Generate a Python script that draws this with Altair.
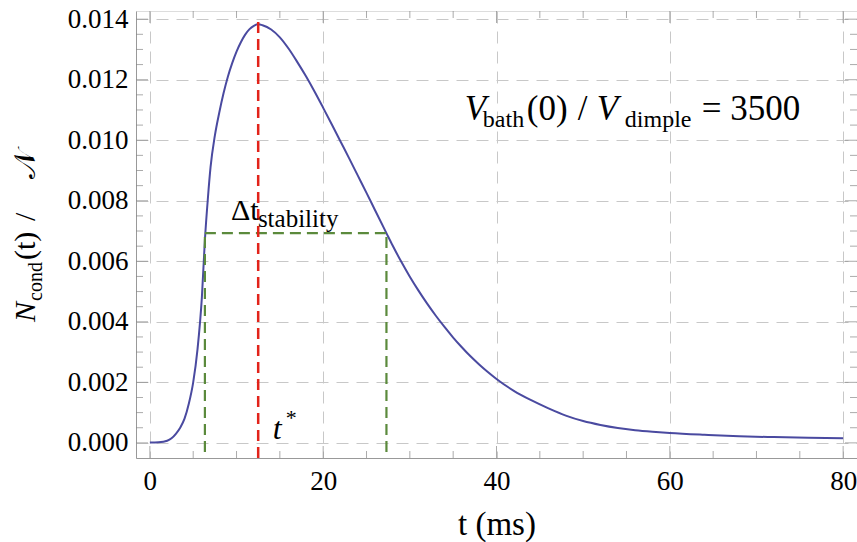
import altair as alt
import pandas as pd

# ---- data ----
t_ms = [0, 1, 2, 2.5, 3, 3.5, 4, 4.5, 5, 5.5, 6, 6.35, 6.7, 7, 7.5, 8, 8.5, 9, 9.5,
        10, 10.5, 11, 11.5, 12, 12.5, 13, 14, 15, 16, 17, 18, 19, 20, 21, 22, 23,
        24, 25, 26, 27.3, 28, 29, 30, 31, 32, 33, 34, 35, 36, 37, 38, 39, 40, 42,
        44, 46, 48, 50, 52, 54, 56, 58, 60, 64, 68, 72, 76, 80]
n_frac = [0.00001, 0.00002, 0.00007, 0.00015, 0.0003, 0.0005, 0.0008, 0.0013,
          0.0020, 0.0031, 0.0048, 0.0067, 0.0081, 0.0091, 0.01015, 0.0109,
          0.01155, 0.0121, 0.01255, 0.01293, 0.01324, 0.01349, 0.01367, 0.01378,
          0.01383, 0.0138, 0.01366, 0.0134, 0.01303, 0.01259, 0.01212, 0.01161,
          0.01107, 0.01052, 0.00996, 0.0094, 0.00883, 0.00826, 0.00768, 0.00693,
          0.00653, 0.00599, 0.00549, 0.00503, 0.0046, 0.0042, 0.00383, 0.00348,
          0.00316, 0.00286, 0.00259, 0.00234, 0.00211, 0.00172, 0.00141, 0.00114,
          0.0009, 0.00072, 0.00059, 0.00049, 0.00042, 0.00037, 0.00033, 0.00027,
          0.00022, 0.00019, 0.00017, 0.00015]

t_star = [12.5]
t_stab = [6.35, 27.3]
half_level = [0.00693]

x_major = [0, 20, 40, 60, 80]
x_minor = [5, 10, 15, 25, 30, 35, 45, 50, 55, 65, 70, 75]
y_major = [0.0, 0.002, 0.004, 0.006, 0.008, 0.010, 0.012, 0.014]
y_minor = [0.0005, 0.001, 0.0015, 0.0025, 0.003, 0.0035, 0.0045, 0.005, 0.0055,
           0.0065, 0.007, 0.0075, 0.0085, 0.009, 0.0095, 0.0105, 0.011, 0.0115,
           0.0125, 0.013, 0.0135]

X_DOMAIN = [-1.6, 81.6]
Y_DOMAIN = [-0.0005, 0.01427]

SERIF = "Liberation Serif, Times New Roman, Times, serif"
W, H = 721, 447

xs = alt.Scale(domain=X_DOMAIN, nice=False, zero=False)
ys = alt.Scale(domain=Y_DOMAIN, nice=False, zero=False)

curve_df = pd.DataFrame({"t": t_ms, "n": n_frac})
one = pd.DataFrame({"a": [0]})

x_axis = alt.Axis(values=x_major, format="d", grid=True, gridDash=[12, 8],
                  gridColor="#c8c8c8", gridWidth=1, ticks=False,
                  labelFont=SERIF, labelFontSize=27, labelColor="black",
                  labelPadding=10, domainColor="#999999", domainWidth=1,
                  title="t (ms)", titleFont=SERIF, titleFontSize=33,
                  titleFontWeight="normal", titleColor="black",
                  titleY=76, titleBaseline="alphabetic")
y_axis = alt.Axis(values=y_major, format=".3f", grid=True, gridDash=[12, 8],
                  gridColor="#c8c8c8", gridWidth=1, ticks=False,
                  labelFont=SERIF, labelFontSize=27, labelColor="black",
                  labelPadding=8, domainColor="#999999", domainWidth=1,
                  title=None)

curve = alt.Chart(curve_df).mark_line(color="#4a4aa0", strokeWidth=2,
                                      interpolate="monotone").encode(
    x=alt.X("t:Q", scale=xs, axis=x_axis),
    y=alt.Y("n:Q", scale=ys, axis=y_axis),
)

red = alt.Chart(pd.DataFrame({"t": t_star})).mark_rule(
    color="#e2231a", strokeWidth=2.5, strokeDash=[11, 6]).encode(
    x=alt.X("t:Q", scale=xs),
    y=alt.datum(Y_DOMAIN[0]),
    y2=alt.datum(0.0141),
)

green_v = alt.Chart(pd.DataFrame({"t": t_stab})).mark_rule(
    color="#5b8a3c", strokeWidth=2.2, strokeDash=[11, 6]).encode(
    x=alt.X("t:Q", scale=xs),
    y=alt.datum(-0.0003),
    y2=alt.datum(half_level[0]),
)
green_h = alt.Chart(pd.DataFrame({"t1": [t_stab[0]], "t2": [t_stab[1]],
                                  "lv": half_level})).mark_rule(
    color="#5b8a3c", strokeWidth=2.2, strokeDash=[11, 6]).encode(
    x=alt.X("t1:Q", scale=xs), x2="t2:Q", y=alt.Y("lv:Q", scale=ys))


def ticks_x(vals, length, ypos):
    return alt.Chart(pd.DataFrame({"v": vals})).mark_tick(
        orient="vertical", size=2 * length, thickness=1, color="#888888",
        clip=True).encode(x=alt.X("v:Q", scale=xs), y=alt.datum(ypos))


def ticks_y(vals, length, xpos):
    return alt.Chart(pd.DataFrame({"v": vals})).mark_tick(
        orient="horizontal", size=2 * length, thickness=1, color="#888888",
        clip=True).encode(y=alt.Y("v:Q", scale=ys), x=alt.datum(xpos))


tick_layers = [
    ticks_x(x_major, 12, Y_DOMAIN[0]), ticks_x(x_minor, 7, Y_DOMAIN[0]),
    ticks_x(x_major, 12, Y_DOMAIN[1]), ticks_x(x_minor, 7, Y_DOMAIN[1]),
    ticks_y(y_major, 12, X_DOMAIN[0]), ticks_y(y_minor, 7, X_DOMAIN[0]),
    ticks_y(y_major, 12, X_DOMAIN[1]), ticks_y(y_minor, 7, X_DOMAIN[1]),
]


def label(text, x, y, size, style="normal", dx=0, dy=0):
    return alt.Chart(one).mark_text(
        text=text, font=SERIF, fontSize=size, fontStyle=style, color="black",
        align="left", baseline="alphabetic", dx=dx, dy=dy).encode(
        x=alt.datum(x), y=alt.datum(y))


def vlabel(text, px, py, size, style="normal"):
    return alt.Chart(one).mark_text(
        text=text, font=SERIF, fontSize=size, fontStyle=style, color="black",
        align="left", baseline="alphabetic", angle=270).encode(
        x=alt.value(px), y=alt.value(py))


# V_bath(0) / V_dimple = 3500
vx, vy = 36.35, 0.01066
ratio = [
    label("V", vx, vy, 35, "italic"),
    label("bath", vx, vy, 24, dx=18, dy=7),
    label("(0)", vx, vy, 35, dx=62),
    label("/", vx, vy, 35, dx=113),
    label("V", vx, vy, 35, "italic", dx=132),
    label("dimple", vx, vy, 24, dx=160, dy=7),
    label("= 3500", vx, vy, 35, dx=237),
]

# Δt_stability
dx0, dy0 = 9.35, 0.00736
stab = [
    label("Δt", dx0, dy0, 30),
    label("stability", dx0, dy0, 25, dx=27, dy=7),
]

# t*
tsx, tsy = 14.19, 0.00013
tstar = [
    label("t", tsx, tsy, 32, "italic"),
    label("*", tsx, tsy, 22, dx=13, dy=-14),
]

# y title: N_cond(t) / 𝒩 (rotated)
ytitle = [
    vlabel("N", -101, 311, 30, "italic"),
    vlabel("cond", -94, 290, 20),
    vlabel("(t)", -101, 249, 30),
    vlabel("/", -101, 210, 30),
    vlabel("𝒩", -101, 168, 30),
]

chart = alt.layer(
    curve, green_h, green_v, red, *tick_layers, *ratio, *stab, *tstar, *ytitle
).properties(
    width=W, height=H,
    autosize=alt.AutoSizeParams(type="none"),
    padding={"left": 136, "top": 11, "right": 0, "bottom": 84},
).configure_view(stroke="#999999", strokeWidth=1).configure(background="white")

chart.save("out.html", embed_options={"renderer": "svg", "actions": False})
